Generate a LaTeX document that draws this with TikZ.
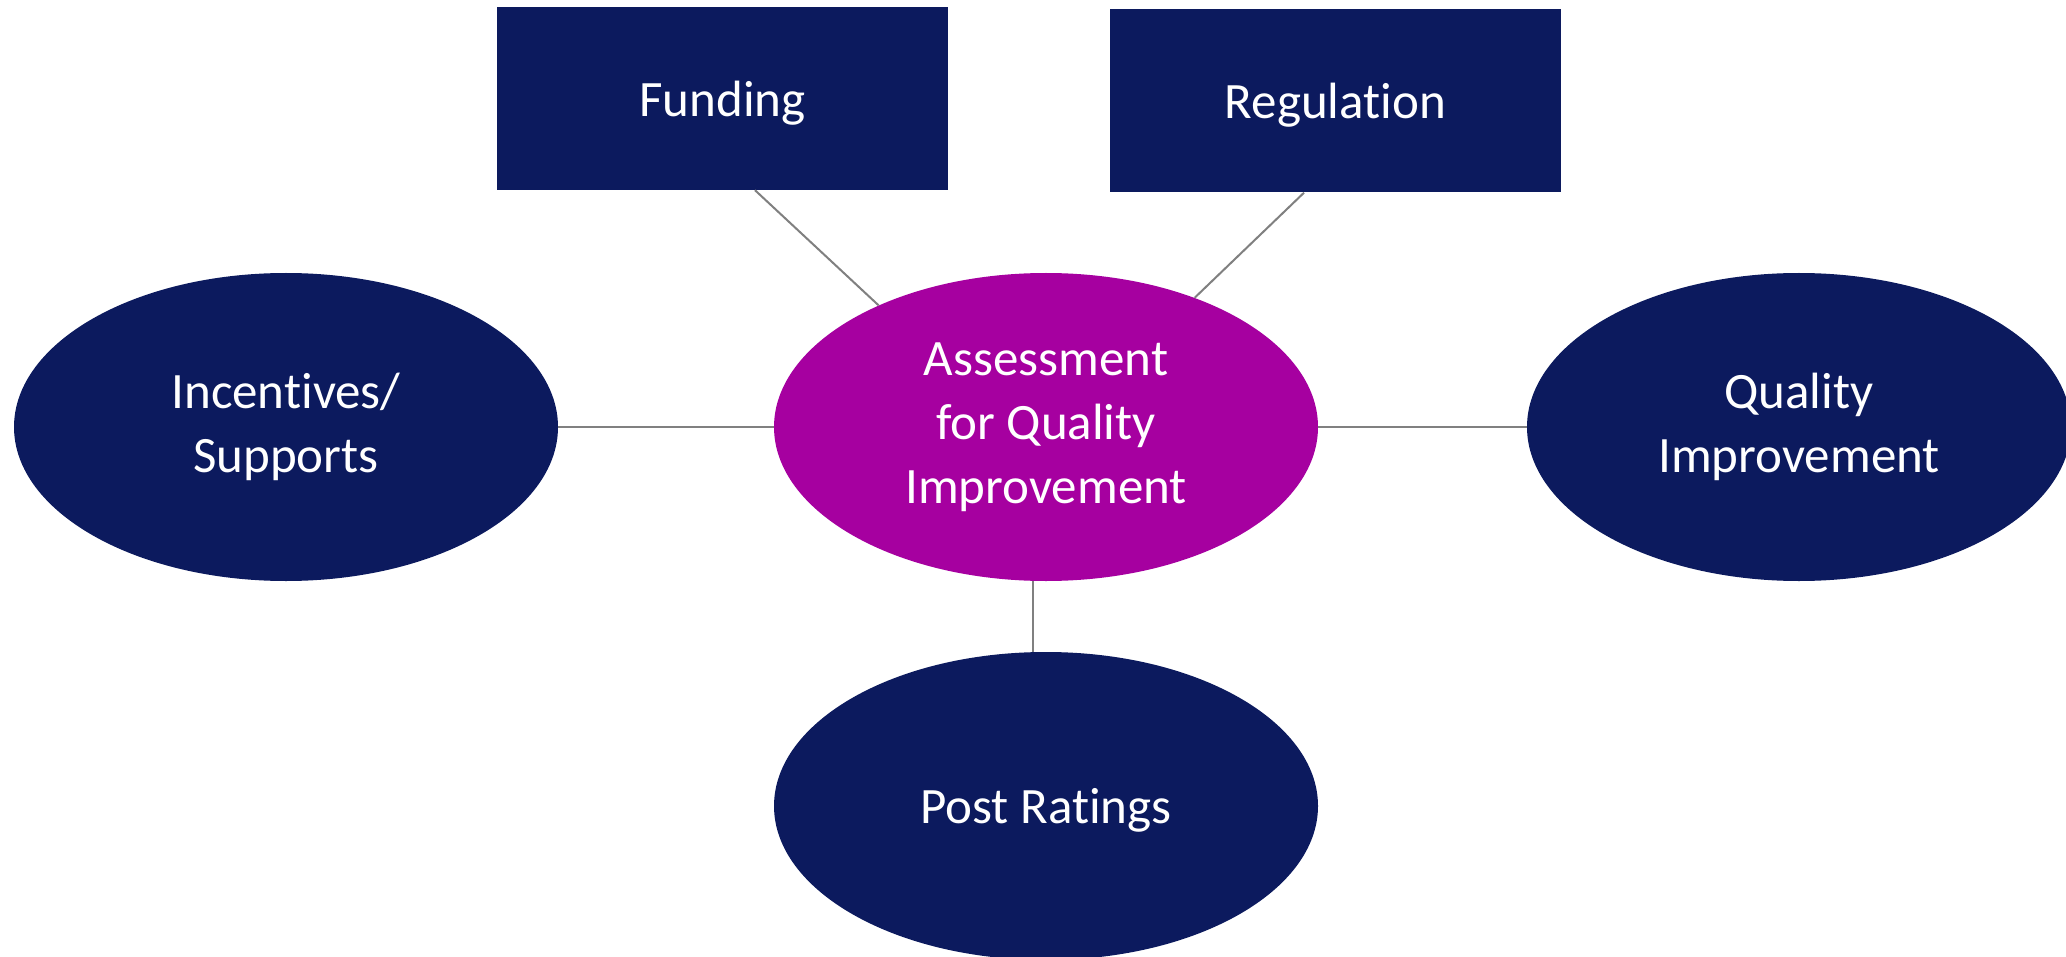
\documentclass[tikz,border=0pt]{standalone}
\usepackage{fontspec}
\setmainfont{Carlito}[Ligatures=NoCommon]
\usetikzlibrary{shapes.geometric,calc}
\definecolor{navy}{HTML}{0C1A5E}
\definecolor{plum}{HTML}{A600A0}
\definecolor{linkgray}{HTML}{808080}
\begin{document}
\begin{tikzpicture}[x=1pt,y=-1pt,
  box/.style={rectangle, fill=navy, text=white, minimum width=451pt, minimum height=183pt, inner sep=0pt, text depth=0pt, font=\fontsize{51}{64}\selectfont},
  oval/.style={ellipse, fill=navy, text=white, minimum width=544pt, minimum height=308pt, inner sep=0pt, align=center, font=\fontsize{51}{64}\selectfont},
  link/.style={draw=linkgray, line width=2pt}]
\useasboundingbox (0,0) rectangle (2066,957);
\clip (0,0) rectangle (2066,957);
\fill[white] (0,0) rectangle (2066,957);

\node[box] (fund) at (722.5,98.5) {Funding};
\node[box] (reg) at (1335.5,101) {Regulation};
\node[oval] (inc) at (286,427) {Incentives/\\Supports};
\node[oval, fill=plum] (cen) at (1046,427) {Assessment\\for Quality\\Improvement};
\node[oval] (qi) at (1799,427) {Quality\\Improvement};
\node[oval, text depth=0pt] (post) at (1046,806) {Post Ratings};

\draw[link] ($(fund.south)+(32.5,0)$) -- (cen.144.2);
\draw[link] ($(reg.south)+(-31.5,0)$) -- (cen.41.5);
\draw[link] (inc.east) -- (cen.west);
\draw[link] (cen.east) -- (qi.west);
\draw[link] ($(cen.south)+(-13,0)$) -- ($(post.north)+(-13,0)$);
\end{tikzpicture}
\end{document}
